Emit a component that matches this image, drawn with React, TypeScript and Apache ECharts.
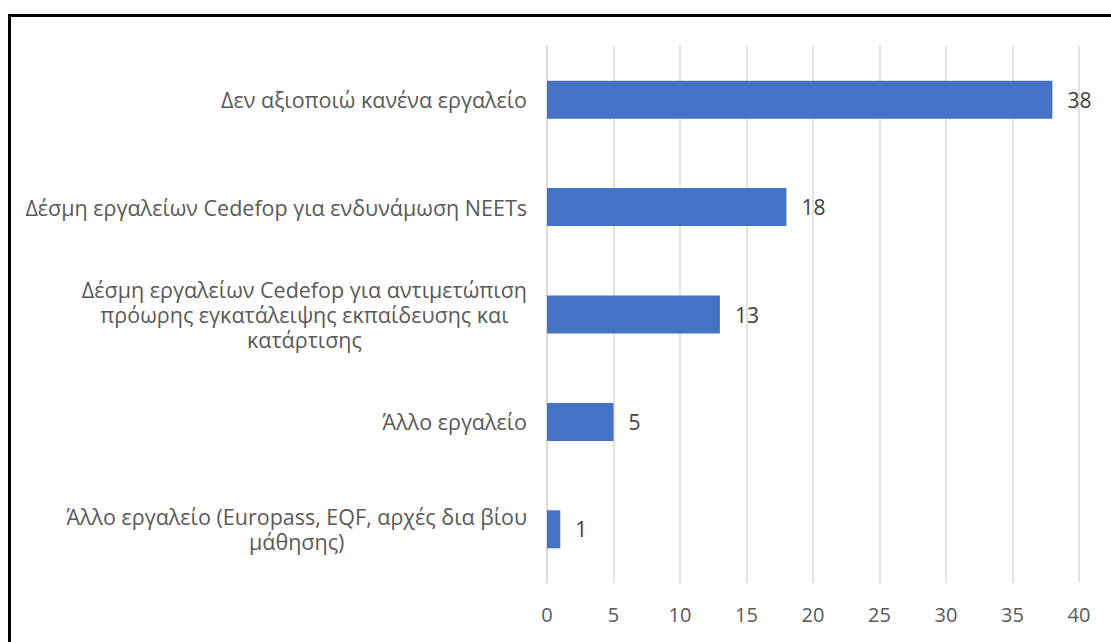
import React, { useEffect, useRef } from "react";
import * as echarts from "echarts";

const categories: string[] = [
  "Δεν αξιοποιώ κανένα εργαλείο",
  "Δέσμη εργαλείων Cedefop για ενδυνάμωση NEETs",
  "Δέσμη εργαλείων Cedefop για αντιμετώπιση\nπρόωρης εγκατάλειψης εκπαίδευσης και\nκατάρτισης",
  "Άλλο εργαλείο",
  "Άλλο εργαλείο (Europass, EQF, αρχές δια βίου\nμάθησης)",
];
const values: number[] = [38, 18, 13, 5, 1];
const xTicks = { min: 0, max: 40, interval: 5 };

const FONT = "'Open Sans', sans-serif";

export default function App() {
  const ref = useRef<HTMLDivElement>(null);
  useEffect(() => {
    if (!ref.current) return;
    const chart = echarts.init(ref.current, null, { renderer: "svg" });
    chart.setOption({
      animation: false,
      backgroundColor: "#ffffff",
      textStyle: { fontFamily: FONT },
      graphic: [
        {
          type: "rect",
          shape: { x: 9.5, y: 15.5, width: 1300, height: 1000 },
          style: { fill: "none", stroke: "#000000", lineWidth: 3 },
          silent: true,
        },
      ],
      grid: { left: 547, right: 32, top: 46, bottom: 59, containLabel: false },
      xAxis: {
        type: "value",
        min: xTicks.min,
        max: xTicks.max,
        interval: xTicks.interval,
        axisLine: { show: false },
        axisTick: { show: false },
        splitLine: { show: true, lineStyle: { color: "#d9d9d9", width: 1.5 } },
        axisLabel: { color: "#595959", fontSize: 20, fontFamily: FONT, margin: 21 },
      },
      yAxis: {
        type: "category",
        inverse: true,
        data: categories,
        axisLine: { show: true, lineStyle: { color: "#d9d9d9", width: 1.5 } },
        axisTick: { show: false },
        axisLabel: {
          margin: 20,
          formatter: (v: string) =>
            v
              .split("\n")
              .map((l) => `{c|${l}}`)
              .join("\n"),
          rich: {
            c: {
              align: "center",
              color: "#595959",
              fontSize: 21.5,
              fontFamily: FONT,
              lineHeight: 25,
            },
          },
        },
      },
      series: [
        {
          type: "bar",
          data: values,
          barWidth: 38,
          itemStyle: { color: "#4472c4" },
          label: {
            show: true,
            position: "right",
            distance: 15,
            color: "#404040",
            fontSize: 21,
            fontFamily: FONT,
          },
        },
      ],
    });
    return () => chart.dispose();
  }, []);
  return (
    <div
      ref={ref}
      style={{ position: "absolute", left: 0, top: 0, width: 1111, height: 642 }}
    />
  );
}
